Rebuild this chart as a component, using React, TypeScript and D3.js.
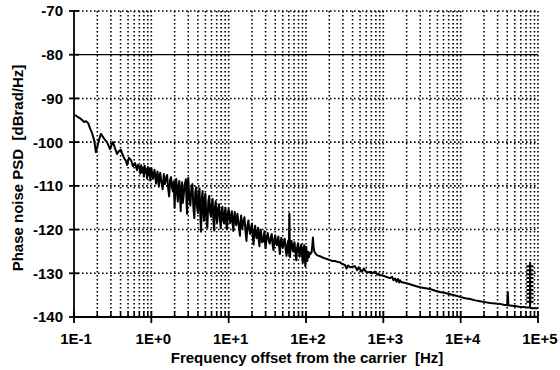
import { useEffect, useRef } from 'react';
import * as d3 from 'd3';

// Phase noise PSD trace, [frequency Hz, dBrad/Hz]
const lowTrace: [number, number][] = [
    [0.103, -93.8], [0.113, -94.3], [0.123, -94.7], [0.135, -95.4], [0.143, -95.2],
    [0.152, -95.6], [0.161, -96.8], [0.171, -97.9], [0.182, -99.5], [0.192, -102.3],
    [0.198, -101.4], [0.21, -99.5], [0.223, -98.1], [0.237, -98.8], [0.252, -99.5],
    [0.267, -100.0], [0.284, -101.1], [0.292, -101.6], [0.31, -100.4], [0.319, -100.0],
    [0.339, -101.4], [0.36, -102.7], [0.382, -102.0], [0.405, -101.8], [0.418, -102.5],
    [0.443, -103.6], [0.47, -104.3], [0.485, -105.2], [0.514, -103.6], [0.546, -104.1],
    [0.579, -105.5], [0.615, -104.8], [0.653, -106.4], [0.673, -105.2],
];

const noisyTrace: [number, number][] = [
    [0.7, -105.6], [0.72, -107.2], [0.74, -105.3], [0.76, -106.9], [0.78, -105.8],
    [0.8, -107.9], [0.82, -105.4], [0.84, -107.0], [0.86, -106.2], [0.88, -108.3],
    [0.9, -105.7], [0.92, -107.6], [0.95, -106.0], [0.97, -108.8], [1.0, -105.9],
    [1.05, -108.4], [1.1, -106.3], [1.15, -109.5], [1.2, -106.7], [1.25, -110.2],
    [1.3, -107.0], [1.35, -109.1], [1.4, -110.8], [1.45, -107.3], [1.5, -109.6],
    [1.55, -108.2], [1.6, -107.5], [1.65, -110.6], [1.7, -112.4], [1.75, -108.6],
    [1.8, -108.0], [1.85, -110.4], [1.9, -111.3], [1.95, -109.0], [2.0, -115.0],
    [2.05, -109.5], [2.1, -108.4], [2.15, -111.7], [2.2, -113.6], [2.25, -110.0],
    [2.3, -108.9], [2.35, -112.3], [2.4, -115.8], [2.45, -110.4], [2.5, -109.2],
    [2.55, -113.9], [2.6, -112.7], [2.7, -109.8], [2.8, -108.5], [2.85, -114.0],
    [2.9, -116.4], [2.95, -110.9], [3.0, -108.2], [3.1, -112.6], [3.2, -114.5],
    [3.3, -110.2], [3.4, -109.6], [3.5, -115.1], [3.6, -117.4], [3.7, -111.4],
    [3.8, -110.3], [3.9, -114.8], [4.0, -116.2], [4.1, -111.8], [4.2, -110.6],
    [4.3, -116.9], [4.4, -120.5], [4.5, -112.9], [4.6, -111.2], [4.7, -115.6],
    [4.8, -118.0], [4.9, -113.1], [5.0, -111.8], [5.15, -117.3], [5.3, -119.6],
    [5.45, -113.6], [5.6, -112.3], [5.75, -116.0], [5.9, -117.1], [6.05, -114.2],
    [6.2, -113.0], [6.35, -118.1], [6.5, -120.2], [6.65, -114.9], [6.8, -113.5],
    [6.95, -117.0], [7.1, -118.4], [7.3, -115.3], [7.5, -114.2], [7.7, -117.6],
    [7.9, -119.7], [8.1, -115.8], [8.3, -114.8], [8.5, -117.9], [8.7, -118.6],
    [8.9, -116.1], [9.1, -115.0], [9.3, -118.3], [9.5, -119.9], [9.75, -116.4],
    [10, -115.3], [10.25, -117.4], [10.5, -118.5], [10.75, -116.6], [11, -115.8],
    [11.25, -118.7], [11.5, -120.3], [11.75, -117.1], [12, -116.0], [12.25, -118.1],
    [12.5, -119.0], [12.75, -117.3], [13, -116.4], [13.5, -119.2], [14, -121.4],
    [14.25, -118.1], [14.5, -116.8], [14.75, -118.9], [15, -119.8], [15.5, -118.0],
    [16, -117.2], [16.5, -120.4], [17, -122.6], [17.5, -119.0], [18, -117.9],
    [18.5, -120.1], [19, -121.0], [19.5, -119.5], [20, -118.6], [20.5, -121.7],
    [21, -123.4], [21.5, -120.2], [22, -119.1], [22.5, -121.3], [23, -122.0],
    [23.5, -120.5], [24, -119.6], [24.5, -122.4], [25, -123.8], [25.5, -121.0],
    [26, -120.0], [27, -122.9], [28, -122.7], [28.5, -121.2], [29, -120.4],
    [29.5, -122.8], [30, -124.3], [31, -121.7], [32, -120.8], [33, -122.6],
    [34, -123.2], [35, -121.8], [36, -121.0], [37, -123.5], [38, -124.7],
    [39, -122.2], [40, -121.3], [41, -122.9], [42, -123.6], [43, -122.3],
    [44, -121.6], [45, -124.1], [46, -125.6], [47, -122.8], [48, -121.9],
    [49, -123.4], [50, -124.2], [51.5, -122.9], [53, -122.1], [54.5, -124.5],
    [56, -126.0], [57.5, -123.4], [59, -122.5], [60, -125.5], [61, -116.4],
    [62, -126.3], [63.5, -123.8], [65, -122.6], [66.5, -124.1], [68, -125.0],
    [69.5, -123.5], [71, -122.9], [73, -125.3], [75, -127.0], [77, -124.0],
    [79, -123.1], [81, -125.0], [83, -126.2], [85, -124.2], [87, -123.4],
    [89, -126.0], [91, -127.6], [93, -124.5], [95, -123.6], [96.5, -126.4],
    [98, -128.4], [99.5, -125.2], [101, -124.0], [102.5, -126.1], [104, -127.2],
    [105.5, -125.6], [107, -125.1], [108.5, -126.4], [110, -126.0], [112, -125.3],
    [114, -125.6], [118, -125.2], [121, -123.5], [123, -121.8], [125, -123.8],
    [128, -125.0], [134, -125.6], [140, -125.9],
];

const highTrace: [number, number][] = [
    [152, -126.1], [165, -126.4], [176, -126.6], [190, -126.8], [204, -127.0],
    [220, -127.2], [237, -127.2], [255, -127.4], [275, -127.5], [295, -127.9],
    [319, -128.1], [335, -128.9], [350, -128.2], [371, -128.6], [400, -128.5],
    [430, -128.4], [460, -129.3], [480, -128.6], [499, -129.1], [530, -129.6],
    [560, -128.9], [580, -129.4], [620, -129.8], [673, -129.7], [720, -130.0],
    [780, -129.6], [840, -130.3], [906, -130.4], [980, -130.5], [1050, -130.7],
    [1130, -130.9], [1220, -131.1], [1300, -130.8], [1350, -131.6], [1420, -131.2],
    [1480, -131.9], [1540, -131.3], [1600, -132.1], [1640, -131.6], [1700, -132.0],
    [1800, -132.1], [2000, -132.3], [2210, -132.5], [2600, -132.9], [2980, -133.2],
    [3500, -133.4], [4020, -133.6], [4700, -134.0], [5410, -134.3], [6300, -134.5],
    [7280, -134.8], [8500, -135.1], [9810, -135.4], [11500, -135.7], [13200, -135.9],
    [15500, -136.2], [17800, -136.4], [20500, -136.6], [24000, -136.8], [28000, -136.9],
    [32300, -137.0], [36000, -137.2], [40000, -137.3], [40700, -134.3], [41400, -137.3],
    [46000, -137.4], [50500, -137.5], [58600, -137.7], [66000, -137.7], [72200, -137.8],
];

// spur near 79 kHz (ladder-like)
const spurTrace: [number, number][] = [
    [78900, -137.8], [78900, -127.6],
    [78900, -128.4], [72500, -128.4], [85500, -128.4], [78900, -128.4],
    [78900, -129.3], [72500, -129.3], [85500, -129.3], [78900, -129.3],
    [78900, -130.2], [72500, -130.2], [85500, -130.2], [78900, -130.2],
    [78900, -131.1], [72500, -131.1], [85500, -131.1], [78900, -131.1],
    [78900, -132.0], [72500, -132.0], [85500, -132.0], [78900, -132.0],
    [78900, -132.9], [72500, -132.9], [85500, -132.9], [78900, -132.9],
    [78900, -133.8], [72500, -133.8], [85500, -133.8], [78900, -133.8],
    [78900, -134.7], [72500, -134.7], [85500, -134.7], [78900, -134.7],
    [78900, -135.6], [72500, -135.6], [85500, -135.6], [78900, -135.6],
    [78900, -136.5], [72500, -136.5], [85500, -136.5], [78900, -136.5],
    [78900, -137.8], [84000, -138.0], [92000, -138.0], [100000, -138.0],
];

const yTicks = [-140, -130, -120, -110, -100, -90, -80, -70];
const solidGridDb = [-80];
const xDecades = [0.1, 1, 10, 100, 1000, 10000, 100000];
const xTickLabels = ['1E-1', '1E+0', '1E+1', '1E+2', '1E+3', '1E+4', '1E+5'];
const minorMultipliers = [2, 3, 4, 5, 6, 7, 8, 9];

export default function App() {
    const svgRef = useRef<SVGSVGElement>(null);

    useEffect(() => {
        if (!svgRef.current) return;
        const svg = d3.select(svgRef.current);
        svg.selectAll('*').remove();

        const width = 560;
        const height = 370;
        const left = 74, right = 538, top = 11, bottom = 317;
        const font = '"Liberation Sans", Arial, sans-serif';

        svg.attr('width', width).attr('height', height);
        svg.append('rect').attr('width', width).attr('height', height).attr('fill', '#fff');

        const x = d3.scaleLog().domain([0.1, 1e5]).range([left, right]);
        const y = d3.scaleLinear().domain([-140, -70]).range([bottom, top]);

        // minor + decade frequencies for grid
        const minors: number[] = [];
        xDecades.slice(0, -1).forEach(d => minorMultipliers.forEach(m => minors.push(d * m)));
        const vGrid = [...minors, ...xDecades.slice(1)];

        const grid = svg.append('g');
        grid.selectAll('line.v')
            .data(vGrid)
            .enter()
            .append('line')
            .attr('x1', d => x(d))
            .attr('x2', d => x(d))
            .attr('y1', top)
            .attr('y2', bottom)
            .attr('stroke', '#000')
            .attr('stroke-width', 1.6)
            .attr('stroke-dasharray', '1.6,2.4');

        grid.selectAll('line.h')
            .data(yTicks.filter(t => t !== -140))
            .enter()
            .append('line')
            .attr('x1', left)
            .attr('x2', right)
            .attr('y1', d => y(d))
            .attr('y2', d => y(d))
            .attr('stroke', '#000')
            .attr('stroke-width', d => solidGridDb.includes(d) ? 1.2 : 1.6)
            .attr('stroke-dasharray', d => solidGridDb.includes(d) ? null : '1.6,2.4');

        // axes
        svg.append('line')
            .attr('x1', left).attr('x2', left).attr('y1', top).attr('y2', bottom)
            .attr('stroke', '#000').attr('stroke-width', 1.8);
        svg.append('line')
            .attr('x1', left).attr('x2', right).attr('y1', bottom).attr('y2', bottom)
            .attr('stroke', '#000').attr('stroke-width', 1.8);

        svg.append('g').selectAll('line')
            .data(yTicks)
            .enter()
            .append('line')
            .attr('x1', left - 5).attr('x2', left + 5)
            .attr('y1', d => y(d)).attr('y2', d => y(d))
            .attr('stroke', '#000').attr('stroke-width', 1.8);

        svg.append('g').selectAll('line')
            .data(minors)
            .enter()
            .append('line')
            .attr('x1', d => x(d)).attr('x2', d => x(d))
            .attr('y1', bottom - 6).attr('y2', bottom)
            .attr('stroke', '#000').attr('stroke-width', 1.5);

        svg.append('g').selectAll('line')
            .data(xDecades)
            .enter()
            .append('line')
            .attr('x1', d => x(d)).attr('x2', d => x(d))
            .attr('y1', bottom - 6).attr('y2', bottom + 6)
            .attr('stroke', '#000').attr('stroke-width', 1.8);

        // trace
        const trace = [...lowTrace, ...noisyTrace, ...highTrace, ...spurTrace];
        const line = d3.line<[number, number]>()
            .x(d => x(d[0]))
            .y(d => y(d[1]));
        svg.append('path')
            .datum(trace)
            .attr('d', line)
            .attr('fill', 'none')
            .attr('stroke', '#000')
            .attr('stroke-width', 2)
            .attr('stroke-linejoin', 'round');

        // tick labels
        svg.append('g').selectAll('text')
            .data(yTicks)
            .enter()
            .append('text')
            .attr('x', 63)
            .attr('y', d => y(d))
            .attr('dy', '0.36em')
            .attr('text-anchor', 'end')
            .style('font-family', font)
            .style('font-weight', 'bold')
            .style('font-size', '15px')
            .text(d => String(d));

        svg.append('g').selectAll('text')
            .data(xDecades)
            .enter()
            .append('text')
            .attr('x', d => x(d) + 2)
            .attr('y', 344)
            .attr('text-anchor', 'middle')
            .style('font-family', font)
            .style('font-weight', 'bold')
            .style('font-size', '15px')
            .text((_, i) => xTickLabels[i]);

        svg.append('text')
            .attr('x', 307)
            .attr('y', 363)
            .attr('text-anchor', 'middle')
            .style('font-family', font)
            .style('font-weight', 'bold')
            .style('font-size', '15px')
            .style('white-space', 'pre')
            .text('Frequency offset from the carrier  [Hz]');

        svg.append('text')
            .attr('transform', 'translate(23,168) rotate(-90)')
            .attr('text-anchor', 'middle')
            .style('font-family', font)
            .style('font-weight', 'bold')
            .style('font-size', '15px')
            .style('white-space', 'pre')
            .text('Phase noise PSD  [dBrad/Hz]');
    }, []);

    return (
        <div style={{ position: 'absolute', left: 0, top: 0 }}>
            <svg ref={svgRef} style={{ display: 'block' }} />
        </div>
    );
}
